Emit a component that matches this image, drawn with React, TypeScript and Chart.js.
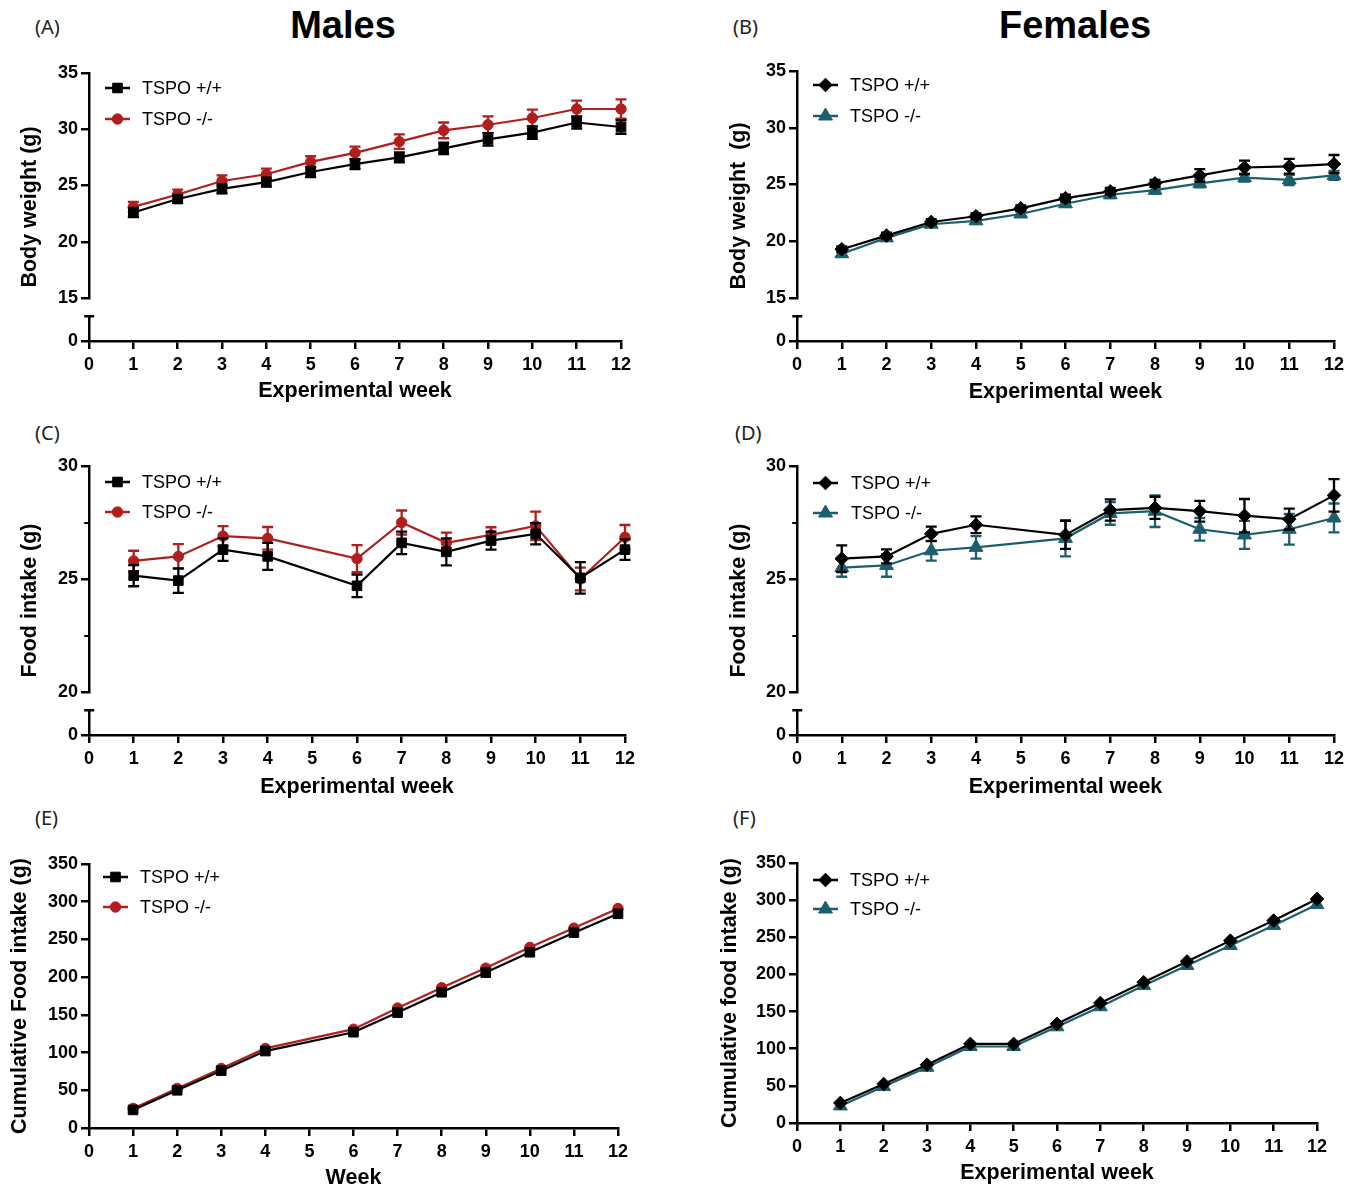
import React, { useEffect, useRef } from 'react';
import { Chart, registerables } from 'chart.js';

Chart.register(...registerables);

const FONT = "'Liberation Sans', Arial, Helvetica, sans-serif";
const BLACK = '#000000';
const RED = '#B01E1E';
const TEAL = '#1B5F6D';

// ---------- data ----------
const weeksAll = [1, 2, 3, 4, 5, 6, 7, 8, 9, 10, 11, 12];
const weeksNo5 = [1, 2, 3, 4, 6, 7, 8, 9, 10, 11, 12];

// (A) Males body weight
const maleBwWT = [22.6, 23.8, 24.7, 25.3, 26.2, 26.9, 27.5, 28.3, 29.1, 29.7, 30.6, 30.2];
const maleBwWTSem = [0.4, 0.35, 0.4, 0.4, 0.45, 0.45, 0.45, 0.5, 0.55, 0.55, 0.55, 0.6];
const maleBwKO = [23.1, 24.2, 25.4, 26.0, 27.1, 27.9, 28.9, 29.9, 30.4, 31.0, 31.8, 31.8];
const maleBwKOSem = [0.44, 0.44, 0.5, 0.5, 0.5, 0.55, 0.65, 0.7, 0.75, 0.75, 0.75, 0.85];

// (B) Females body weight
const femBwWT = [19.3, 20.5, 21.7, 22.2, 22.9, 23.8, 24.4, 25.1, 25.8, 26.5, 26.6, 26.8];
const femBwWTSem = [0.25, 0.25, 0.25, 0.25, 0.25, 0.3, 0.3, 0.3, 0.55, 0.6, 0.65, 0.8];
const femBwKO = [18.9, 20.3, 21.5, 21.8, 22.4, 23.3, 24.1, 24.5, 25.1, 25.6, 25.4, 25.8];
const femBwKOSem = [0.2, 0.2, 0.2, 0.25, 0.25, 0.25, 0.3, 0.3, 0.35, 0.35, 0.45, 0.4];

// (C) Males food intake
const maleFiWT = [25.15, 24.93, 26.3, 26.0, 24.7, 26.6, 26.2, 26.7, 27.0, 25.05, 26.3];
const maleFiWTSem = [0.47, 0.54, 0.5, 0.6, 0.5, 0.5, 0.6, 0.4, 0.47, 0.7, 0.45];
const maleFiKO = [25.8, 26.0, 26.9, 26.8, 25.9, 27.5, 26.6, 26.95, 27.35, 25.0, 26.85];
const maleFiKOSem = [0.45, 0.54, 0.44, 0.5, 0.6, 0.53, 0.45, 0.34, 0.63, 0.5, 0.54];

// (D) Females food intake
const femFiWT = [25.9, 26.0, 27.0, 27.4, 26.95, 28.05, 28.15, 28.0, 27.8, 27.65, 28.7];
const femFiWTSem = [0.59, 0.31, 0.32, 0.37, 0.62, 0.47, 0.49, 0.46, 0.74, 0.46, 0.72];
const femFiKO = [25.5, 25.6, 26.25, 26.4, 26.8, 27.9, 28.0, 27.2, 26.95, 27.2, 27.7];
const femFiKOSem = [0.4, 0.5, 0.44, 0.5, 0.8, 0.5, 0.7, 0.5, 0.62, 0.68, 0.64];

// (E) Males cumulative food intake
const maleCumWT = [24, 50, 76, 102, 127, 153, 180, 206, 233, 259, 284];
const maleCumKO = [26, 52.5, 79, 105.5, 131, 159, 186, 212, 239.5, 265, 291];

// (F) Females cumulative food intake
const femCumWT = [27, 52.5, 78.5, 106.5, 106.5, 133.5, 161.5, 189.5, 217.5, 245.5, 272.5, 301.5];
const femCumKO = [23, 49, 75, 103, 103, 129.5, 156.5, 185, 212, 239, 266, 294];

const LABEL_WT = 'TSPO +/+';
const LABEL_KO = 'TSPO -/-';

// ---------- types ----------
type Style = 'rect' | 'circle' | 'rectRot' | 'triangle';
type Series = {
  label: string;
  color: string;
  style: Style;
  radius: number;
  weeks: number[];
  values: number[];
  errors?: number[];
};
type PanelSpec = {
  canvas: { left: number; top: number; width: number; height: number };
  area: { left: number; top: number; right: number; bottom: number };
  yMin: number;
  yMax: number;
  yStep: number;
  breakY?: number;
  minorTicks?: number[];
  yTitle: string;
  yTitleX: number;
  xTitle: string;
  xTitleY: number;
  legend: { x0: number; x1: number; textX: number; rows: number[] };
  series: Series[];
};

const maleSeries = (wt: number[], ko: number[], weeks: number[], wtE?: number[], koE?: number[]): Series[] => [
  { label: LABEL_WT, color: BLACK, style: 'rect', radius: 6.8, weeks, values: wt, errors: wtE },
  { label: LABEL_KO, color: RED, style: 'circle', radius: 5.2, weeks, values: ko, errors: koE },
];
const femaleSeries = (wt: number[], ko: number[], weeks: number[], wtE?: number[], koE?: number[]): Series[] => [
  { label: LABEL_WT, color: BLACK, style: 'rectRot', radius: 6.8, weeks, values: wt, errors: wtE },
  { label: LABEL_KO, color: TEAL, style: 'triangle', radius: 8, weeks, values: ko, errors: koE },
];

const panels: PanelSpec[] = [
  {
    canvas: { left: 0, top: 50, width: 650, height: 362 },
    area: { left: 89, top: 73, right: 621, bottom: 341 },
    yMin: 15, yMax: 35, yStep: 5, breakY: 298,
    yTitle: 'Body weight (g)', yTitleX: 30,
    xTitle: 'Experimental week', xTitleY: 391,
    legend: { x0: 105, x1: 130, textX: 142, rows: [88, 119] },
    series: maleSeries(maleBwWT, maleBwKO, weeksAll, maleBwWTSem, maleBwKOSem),
  },
  {
    canvas: { left: 700, top: 50, width: 657, height: 362 },
    area: { left: 797, top: 71, right: 1334, bottom: 341 },
    yMin: 15, yMax: 35, yStep: 5, breakY: 298,
    yTitle: 'Body weight  (g)', yTitleX: 739,
    xTitle: 'Experimental week', xTitleY: 392,
    legend: { x0: 813, x1: 838, textX: 850, rows: [85, 116] },
    series: femaleSeries(femBwWT, femBwKO, weeksAll, femBwWTSem, femBwKOSem),
  },
  {
    canvas: { left: 0, top: 445, width: 650, height: 362 },
    area: { left: 89, top: 466, right: 625, bottom: 735 },
    yMin: 20, yMax: 30, yStep: 5, breakY: 692, minorTicks: [22.5, 27.5],
    yTitle: 'Food intake (g)', yTitleX: 30,
    xTitle: 'Experimental week', xTitleY: 787,
    legend: { x0: 105, x1: 130, textX: 142, rows: [482, 512] },
    series: maleSeries(maleFiWT, maleFiKO, weeksNo5, maleFiWTSem, maleFiKOSem),
  },
  {
    canvas: { left: 700, top: 445, width: 657, height: 362 },
    area: { left: 797, top: 466, right: 1334, bottom: 735 },
    yMin: 20, yMax: 30, yStep: 5, breakY: 692, minorTicks: [22.5, 27.5],
    yTitle: 'Food intake (g)', yTitleX: 739,
    xTitle: 'Experimental week', xTitleY: 787,
    legend: { x0: 813, x1: 838, textX: 851, rows: [483, 513] },
    series: femaleSeries(femFiWT, femFiKO, weeksNo5, femFiWTSem, femFiKOSem),
  },
  {
    canvas: { left: 0, top: 840, width: 650, height: 348 },
    area: { left: 89, top: 864, right: 618, bottom: 1128 },
    yMin: 0, yMax: 350, yStep: 50,
    yTitle: 'Cumulative Food intake (g)', yTitleX: 20,
    xTitle: 'Week', xTitleY: 1178,
    legend: { x0: 103, x1: 128, textX: 140, rows: [877, 907] },
    series: maleSeries(maleCumWT, maleCumKO, weeksNo5),
  },
  {
    canvas: { left: 700, top: 840, width: 657, height: 348 },
    area: { left: 797, top: 863, right: 1317, bottom: 1123 },
    yMin: 0, yMax: 350, yStep: 50,
    yTitle: 'Cumulative food intake (g)', yTitleX: 730,
    xTitle: 'Experimental week', xTitleY: 1173,
    legend: { x0: 813, x1: 838, textX: 850, rows: [880, 909] },
    series: femaleSeries(femCumWT, femCumKO, weeksAll),
  },
];

// ---------- helpers ----------
function drawMarker(ctx: CanvasRenderingContext2D, style: Style, r: number, x: number, y: number) {
  ctx.beginPath();
  if (style === 'rect') {
    const s = Math.SQRT1_2 * r;
    ctx.rect(x - s, y - s, 2 * s, 2 * s);
  } else if (style === 'circle') {
    ctx.arc(x, y, r, 0, Math.PI * 2);
  } else if (style === 'rectRot') {
    ctx.moveTo(x, y - r);
    ctx.lineTo(x + r, y);
    ctx.lineTo(x, y + r);
    ctx.lineTo(x - r, y);
    ctx.closePath();
  } else {
    ctx.moveTo(x, y - r);
    ctx.lineTo(x + 0.866 * r, y + 0.5 * r);
    ctx.lineTo(x - 0.866 * r, y + 0.5 * r);
    ctx.closePath();
  }
  ctx.fill();
  ctx.stroke();
}

const TITLE_SIZE = 21.5;
const tickFont = { family: FONT, size: 18, weight: 'bold' as const };
const titleFont = { family: FONT, size: TITLE_SIZE, weight: 'bold' as const, lineHeight: 1 };
const AXIS_W = 2.5;
const gridCfg = {
  display: true,
  drawOnChartArea: false,
  drawTicks: true,
  tickLength: 8,
  color: BLACK,
  lineWidth: AXIS_W,
};
const borderCfg = { display: true, color: BLACK, width: AXIS_W };

function Panel({ spec }: { spec: PanelSpec }) {
  const ref = useRef<HTMLCanvasElement>(null);

  useEffect(() => {
    const c = spec.canvas;
    const a = spec.area;
    const totalLeft = a.left - c.left;
    const padTop = a.top - c.top;
    const padRight = c.left + c.width - a.right;
    const xH = c.top + c.height - a.bottom;
    const yTitlePad = spec.yTitleX - c.left - TITLE_SIZE / 2;
    const xTitlePad = c.top + c.height - spec.xTitleY - TITLE_SIZE / 2;

    const scales: any = {
      x: {
        type: 'linear',
        min: 0,
        max: 12,
        ticks: { stepSize: 1, autoSkip: false, maxRotation: 0, font: tickFont, color: BLACK, padding: 5 },
        grid: gridCfg,
        border: borderCfg,
        title: { display: true, text: spec.xTitle, font: titleFont, color: BLACK, padding: { top: 0, bottom: xTitlePad } },
        afterFit: (s: any) => { s.height = xH; },
      },
    };

    if (spec.breakY) {
      const upperPx = spec.breakY - a.top;
      const lowerPx = a.bottom - spec.breakY;
      const w1 = yTitlePad + 24;
      const w2 = totalLeft - w1;
      scales.yT = {
        type: 'linear',
        position: 'left',
        weight: 10,
        min: 0,
        max: 1,
        ticks: { display: false },
        grid: { display: false },
        border: { display: false },
        title: { display: true, text: spec.yTitle, font: titleFont, color: BLACK, padding: { top: yTitlePad, bottom: 0 } },
        afterFit: (s: any) => { s.width = w1; },
      };
      scales.y = {
        type: 'linear',
        position: 'left',
        stack: 'v',
        stackWeight: upperPx,
        weight: 2,
        min: spec.yMin,
        max: spec.yMax,
        ticks: { stepSize: spec.yStep, font: tickFont, color: BLACK, padding: 3 },
        grid: gridCfg,
        border: borderCfg,
        afterFit: (s: any) => { s.width = w2; },
      };
      scales.y0 = {
        type: 'linear',
        position: 'left',
        stack: 'v',
        stackWeight: lowerPx,
        weight: 1,
        min: 0,
        max: lowerPx / 25,
        afterBuildTicks: (s: any) => { s.ticks = [{ value: 0 }]; },
        ticks: { font: tickFont, color: BLACK, padding: 3 },
        grid: gridCfg,
        border: { display: false },
        afterFit: (s: any) => { s.width = w2; },
      };
    } else {
      scales.y = {
        type: 'linear',
        position: 'left',
        min: spec.yMin,
        max: spec.yMax,
        ticks: { stepSize: spec.yStep, font: tickFont, color: BLACK, padding: 3 },
        grid: gridCfg,
        border: borderCfg,
        title: { display: true, text: spec.yTitle, font: titleFont, color: BLACK, padding: { top: yTitlePad, bottom: 0 } },
        afterFit: (s: any) => { s.width = totalLeft; },
      };
    }

    const errorBars = {
      id: 'errorBars',
      beforeDatasetDraw(chart: any, args: any) {
        const s = spec.series[args.index];
        if (!s || !s.errors) return;
        const ys = chart.scales.y;
        const ctx = chart.ctx as CanvasRenderingContext2D;
        ctx.save();
        ctx.strokeStyle = s.color;
        ctx.lineWidth = 2.3;
        args.meta.data.forEach((pt: any, i: number) => {
          const v = s.values[i];
          const e = s.errors![i];
          const yT = ys.getPixelForValue(v + e);
          const yB = ys.getPixelForValue(v - e);
          const x = pt.x;
          ctx.beginPath();
          ctx.moveTo(x, yT);
          ctx.lineTo(x, yB);
          ctx.moveTo(x - 5.5, yT);
          ctx.lineTo(x + 5.5, yT);
          ctx.moveTo(x - 5.5, yB);
          ctx.lineTo(x + 5.5, yB);
          ctx.stroke();
        });
        ctx.restore();
      },
    };

    const extras = {
      id: 'extras',
      afterDraw(chart: any) {
        const ctx = chart.ctx as CanvasRenderingContext2D;
        const ca = chart.chartArea;
        const ax = Math.round(ca.left - AXIS_W / 2) + AXIS_W / 2;
        ctx.save();
        ctx.strokeStyle = BLACK;
        ctx.fillStyle = BLACK;
        ctx.lineWidth = AXIS_W;
        if (spec.breakY && chart.scales.y0) {
          const y0 = chart.scales.y0;
          const yb = y0.getPixelForValue(0);
          const yc = Math.round(y0.getPixelForValue(1)) + 0.25;
          ctx.beginPath();
          ctx.moveTo(ax, yb + AXIS_W / 2);
          ctx.lineTo(ax, yc);
          ctx.moveTo(ax - 5, yc);
          ctx.lineTo(ax + 5, yc);
          ctx.stroke();
        }
        if (spec.minorTicks) {
          const ys = chart.scales.y;
          ctx.lineWidth = 2;
          spec.minorTicks.forEach((v) => {
            const y = Math.round(ys.getPixelForValue(v));
            ctx.beginPath();
            ctx.moveTo(ax - 5, y);
            ctx.lineTo(ax, y);
            ctx.stroke();
          });
        }
        // legend
        const L = spec.legend;
        spec.series.forEach((s, i) => {
          const y = L.rows[i] - c.top;
          const x0 = L.x0 - c.left;
          const x1 = L.x1 - c.left;
          ctx.strokeStyle = s.color;
          ctx.fillStyle = s.color;
          ctx.lineWidth = 2.5;
          ctx.beginPath();
          ctx.moveTo(x0, y);
          ctx.lineTo(x1, y);
          ctx.stroke();
          ctx.lineWidth = 1;
          drawMarker(ctx, s.style, s.radius, (x0 + x1) / 2, y);
          ctx.fillStyle = BLACK;
          ctx.font = `18px ${FONT}`;
          ctx.textAlign = 'left';
          ctx.textBaseline = 'middle';
          ctx.fillText(s.label, L.textX - c.left, y + 1);
        });
        ctx.restore();
      },
    };

    const chart = new Chart(ref.current!, {
      type: 'line',
      data: {
        datasets: spec.series.map((s) => ({
          label: s.label,
          data: s.weeks.map((w, i) => ({ x: w, y: s.values[i] })),
          borderColor: s.color,
          backgroundColor: s.color,
          pointStyle: s.style,
          pointRadius: s.radius,
          pointHoverRadius: s.radius,
          pointBorderWidth: 1,
          borderWidth: 2.2,
          tension: 0,
          clip: false,
          yAxisID: 'y',
          xAxisID: 'x',
        })),
      },
      options: {
        animation: false,
        responsive: false,
        maintainAspectRatio: false,
        devicePixelRatio: 1,
        events: [],
        layout: { padding: { left: 0, top: padTop, right: padRight, bottom: 0 } },
        plugins: { legend: { display: false }, tooltip: { enabled: false } },
        scales,
      } as any,
      plugins: [errorBars, extras],
    });
    return () => chart.destroy();
  }, [spec]);

  const c = spec.canvas;
  return (
    <canvas
      ref={ref}
      width={c.width}
      height={c.height}
      style={{ position: 'absolute', left: c.left, top: c.top, width: c.width, height: c.height }}
    />
  );
}

const panelLetters = [
  { t: '(A)', x: 35, y: 15 },
  { t: '(B)', x: 733, y: 15 },
  { t: '(C)', x: 35, y: 421 },
  { t: '(D)', x: 735, y: 421 },
  { t: '(E)', x: 35, y: 806 },
  { t: '(F)', x: 733, y: 806 },
];

export default function App() {
  return (
    <div style={{ position: 'absolute', left: 0, top: 0, width: 1357, height: 1188, background: '#fff', overflow: 'hidden' }}>
      {panelLetters.map((p) => (
        <div
          key={p.t}
          style={{ position: 'absolute', left: p.x, top: p.y, fontFamily: "'Noto Sans', sans-serif", fontSize: 20, lineHeight: '24px', color: '#222' }}
        >
          {p.t}
        </div>
      ))}
      <div style={{ position: 'absolute', left: 193, top: 2, width: 300, textAlign: 'center', fontFamily: FONT, fontWeight: 'bold', fontSize: 38, lineHeight: '46px' }}>
        Males
      </div>
      <div style={{ position: 'absolute', left: 925, top: 2, width: 300, textAlign: 'center', fontFamily: FONT, fontWeight: 'bold', fontSize: 38, lineHeight: '46px' }}>
        Females
      </div>
      {panels.map((p, i) => (
        <Panel key={i} spec={p} />
      ))}
    </div>
  );
}
